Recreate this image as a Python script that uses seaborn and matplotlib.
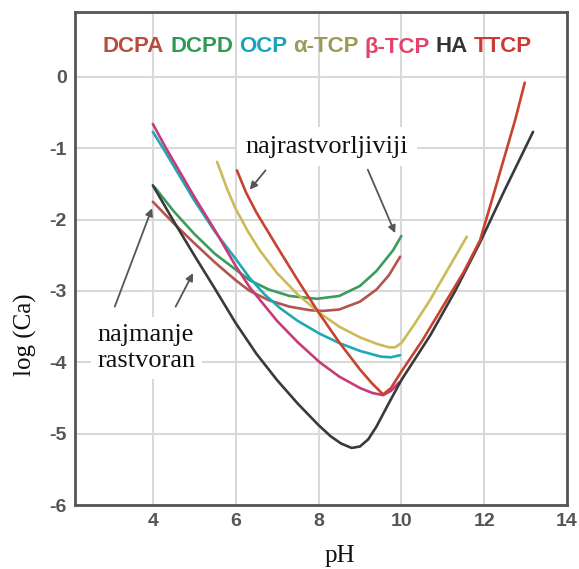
import numpy as np
import pandas as pd
import matplotlib
matplotlib.use("Agg")
import matplotlib.pyplot as plt
import seaborn as sns

# ---------------- data ----------------
ha_x = [4.0, 4.5, 5.0, 5.5, 6.0, 6.5, 7.0, 7.5, 8.0, 8.3, 8.55, 8.8, 9.0, 9.2, 9.4, 9.7, 10.0, 10.7, 11.3, 11.9, 12.5, 13.18]
ha_y = [-1.52, -2.02, -2.5, -2.97, -3.45, -3.88, -4.25, -4.58, -4.88, -5.04, -5.14, -5.2, -5.18, -5.08, -4.9, -4.57, -4.25, -3.62, -3.0, -2.32, -1.58, -0.77]

ttcp_x = [6.03, 6.25, 6.5, 7.0, 7.5, 8.0, 8.5, 9.0, 9.3, 9.56, 9.75, 10.0, 10.5, 11.0, 11.5, 11.9, 12.2, 12.5, 12.75, 12.98]
ttcp_y = [-1.31, -1.62, -1.9, -2.38, -2.85, -3.3, -3.72, -4.1, -4.3, -4.45, -4.36, -4.13, -3.7, -3.22, -2.74, -2.29, -1.7, -1.1, -0.6, -0.08]

btcp_x = [4.0, 4.3, 4.7, 5.0, 5.5, 6.0, 6.34, 7.0, 7.5, 8.03, 8.5, 9.0, 9.3, 9.56, 9.75, 9.95]
btcp_y = [-0.66, -0.98, -1.38, -1.68, -2.15, -2.65, -2.95, -3.42, -3.72, -4.0, -4.2, -4.36, -4.43, -4.46, -4.4, -4.28]

ocp_x = [4.0, 4.3, 4.7, 5.0, 5.5, 6.0, 6.34, 6.7, 7.07, 7.5, 8.03, 8.5, 9.0, 9.5, 9.75, 9.97]
ocp_y = [-0.77, -1.05, -1.44, -1.73, -2.17, -2.55, -2.82, -3.05, -3.24, -3.42, -3.6, -3.73, -3.84, -3.92, -3.93, -3.9]

dcpd_x = [4.05, 4.5, 5.0, 5.5, 6.0, 6.34, 6.8, 7.3, 7.96, 8.5, 9.0, 9.4, 9.8, 10.0]
dcpd_y = [-1.55, -1.88, -2.2, -2.48, -2.7, -2.85, -2.98, -3.07, -3.11, -3.07, -2.93, -2.72, -2.43, -2.23]

dcpa_x = [4.0, 4.5, 5.0, 5.5, 6.0, 6.34, 6.8, 7.3, 7.8, 8.1, 8.5, 9.0, 9.4, 9.7, 9.97]
dcpa_y = [-1.75, -2.05, -2.33, -2.6, -2.85, -3.0, -3.13, -3.22, -3.27, -3.28, -3.26, -3.15, -2.98, -2.78, -2.52]

atcp_x = [5.55, 5.8, 6.0, 6.3, 6.58, 7.0, 7.5, 8.03, 8.5, 9.0, 9.4, 9.7, 9.85, 10.0, 10.3, 10.69, 11.1, 11.58]
atcp_y = [-1.19, -1.58, -1.85, -2.17, -2.43, -2.75, -3.05, -3.31, -3.5, -3.65, -3.74, -3.79, -3.79, -3.73, -3.48, -3.13, -2.72, -2.24]

series_names = ["DCPA", "DCPD", "OCP", "α-TCP", "β-TCP", "HA", "TTCP"]
legend_colors = ["#b84c3e", "#2e9a55", "#1aa3b8", "#9c9a55", "#e2436b", "#333333", "#cc3b33"]
line_colors = ["#b3544f", "#3c9b5e", "#1fa9b6", "#cbbb58", "#c73b78", "#3a3a3a", "#c8432f"]

x_ticks = [4, 6, 8, 10, 12, 14]
x_tick_labels = ["4", "6", "8", "10", "12", "14"]
y_ticks = [-6, -5, -4, -3, -2, -1, 0]
y_tick_labels = ["-6", "-5", "-4", "-3", "-2", "-1", "0"]

x_label = "pH"
y_label = "log (Ca)"
note_top = "najrastvorljiviji"
note_bottom = "najmanje\nrastvoran"

# ---------------- build long table ----------------
frames = []
for name, xs, ys in [
    ("DCPA", dcpa_x, dcpa_y), ("DCPD", dcpd_x, dcpd_y), ("OCP", ocp_x, ocp_y),
    ("α-TCP", atcp_x, atcp_y), ("β-TCP", btcp_x, btcp_y), ("HA", ha_x, ha_y),
    ("TTCP", ttcp_x, ttcp_y),
]:
    frames.append(pd.DataFrame({"pH": xs, "logCa": ys, "faza": name}))
df = pd.concat(frames, ignore_index=True)

# ---------------- style ----------------
sns.set_theme(style="whitegrid")
plt.rcParams["font.family"] = ["Liberation Sans", "DejaVu Sans"]
plt.rcParams["axes.unicode_minus"] = False

W, H = 579, 569
fig = plt.figure(figsize=(W / 100, H / 100), dpi=100)
fig.patch.set_facecolor("white")
L, R, T, B = 75, 567, 12, 505
ax = fig.add_axes([L / W, 1 - B / H, (R - L) / W, (B - T) / H])
ax.set_facecolor("white")

sns.lineplot(data=df, x="pH", y="logCa", hue="faza", hue_order=series_names,
             palette=dict(zip(series_names, line_colors)), sort=False,
             estimator=None, linewidth=1.9, legend=False, ax=ax)
for ln in ax.get_lines():
    ln.set_solid_joinstyle("round")
    ln.set_solid_capstyle("round")

ax.set_xlim(2.12, 14)
ax.set_ylim(-6, 0.91)
ax.set_xticks(x_ticks)
ax.set_xticklabels(x_tick_labels)
ax.set_yticks(y_ticks)
ax.set_yticklabels(y_tick_labels)
ax.grid(True, color="#d9d9d9", linewidth=1.5)
ax.set_axisbelow(True)
for s in ax.spines.values():
    s.set_visible(True)
    s.set_color("#555555")
    s.set_linewidth(2)
ax.tick_params(axis="both", length=0, labelsize=14, labelcolor="#555555")
ax.tick_params(axis="y", pad=6)
ax.tick_params(axis="x", pad=6)
for lab in ax.get_xticklabels() + ax.get_yticklabels():
    lab.set_fontweight("bold")

serif = ["Liberation Serif", "DejaVu Serif"]
ax.set_xlabel(x_label, fontsize=18, family=serif, color="#111111")
ax.set_ylabel(y_label, fontsize=18, family=serif, color="#111111")
ax.xaxis.label.set_va("center")
ax.yaxis.label.set_va("center")
ax.xaxis.set_label_coords((340 - L) / (R - L), (B - 556) / (B - T))
ax.yaxis.set_label_coords((25 - L) / (R - L), (B - 335) / (B - T))

# ---------------- coloured title legend ----------------
fig.canvas.draw()
renderer = fig.canvas.get_renderer()
xpix = 103
ypix = H - 47
fs_leg = 16
space = fig.text(0, 0, " ", fontsize=fs_leg, fontweight="bold")
sw = space.get_window_extent(renderer).width
space.remove()
for name, col in zip(series_names, legend_colors):
    t = fig.text(xpix / W, ypix / H, name, color=col, fontsize=fs_leg,
                 fontweight="bold", ha="left", va="center")
    ext = t.get_window_extent(renderer)
    xpix += ext.width + sw * 0.95

# ---------------- annotations ----------------
arrow = dict(arrowstyle="-|>", color="#555555", lw=1.3, mutation_scale=11, shrinkA=0, shrinkB=0)
ax.text(8.2, -0.98, note_top, fontsize=19, family=serif, color="#111111",
        ha="center", va="center", zorder=5,
        bbox=dict(facecolor="white", edgecolor="none", pad=6))
ax.annotate("", xy=(6.34, -1.58), xytext=(6.72, -1.31), arrowprops=arrow, zorder=6)
ax.annotate("", xy=(9.85, -2.19), xytext=(9.19, -1.3), arrowprops=arrow, zorder=6)

ax.text(2.66, -3.8, note_bottom, fontsize=19, family=serif, color="#111111",
        ha="left", va="center", linespacing=1.25, zorder=5,
        bbox=dict(facecolor="white", edgecolor="none", pad=5))
ax.annotate("", xy=(3.98, -1.84), xytext=(3.08, -3.22), arrowprops=arrow, zorder=6)
ax.annotate("", xy=(4.97, -2.75), xytext=(4.55, -3.22), arrowprops=arrow, zorder=6)

fig.savefig("out.png", dpi=100, facecolor="white")
